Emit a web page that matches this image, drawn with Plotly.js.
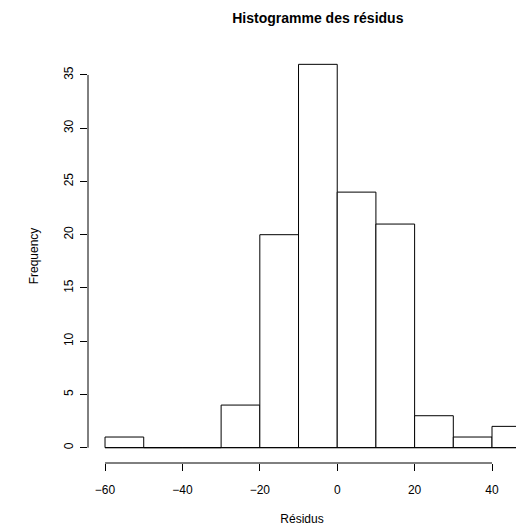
<!DOCTYPE html>
<html><head><meta charset="utf-8">
<script src="https://cdn.plot.ly/plotly-3.0.1.min.js"></script>
<style>html,body{margin:0;padding:0;background:#fff}</style>
</head><body><div id="chart" style="width:516px;height:527px"></div>
<script>
const binStarts = [-60, -50, -40, -30, -20, -10, 0, 10, 20, 30, 40];
const binWidth = 10;
const counts = [1, 0, 0, 4, 20, 36, 24, 21, 3, 1, 2];
const xTicks = [-60, -40, -20, 0, 20, 40];
const yTicks = [0, 5, 10, 15, 20, 25, 30, 35];

const centers = binStarts.map(s => s + binWidth / 2);
const font = {family: 'Liberation Sans, Arial, sans-serif', color: '#000'};

const trace = {
  type: 'bar', x: centers, y: counts, width: binWidth,
  marker: {color: '#fff', line: {color: '#000', width: 1}},
  hoverinfo: 'skip'
};

const layout = {
  width: 516, height: 527,
  margin: {l: 88, r: 0, t: 49, b: 64},
  paper_bgcolor: '#fff', plot_bgcolor: '#fff',
  showlegend: false, bargap: 0,
  font: Object.assign({size: 12}, font),
  title: {text: '<b>Histogramme des résidus</b>', font: Object.assign({size: 14}, font),
          xref: 'paper', x: 0.537, xanchor: 'center', yref: 'container', y: 0.966, yanchor: 'middle'},
  xaxis: {range: [-64.4, 46.2], tickvals: xTicks, ticktext: xTicks.map(v => v < 0 ? '\u2212' + Math.abs(v) : String(v)),
          ticks: 'outside', ticklen: 7, tickcolor: '#000', tickwidth: 1, showgrid: false, zeroline: false,
          showline: false, ticklabelstandoff: 9,
          title: {text: 'Résidus', font: Object.assign({size: 12}, font), standoff: 18}},
  yaxis: {range: [-1.44, 37.44], tickvals: yTicks, ticktext: yTicks.map(String), tickangle: -90,
          ticks: 'outside', ticklen: 7, tickcolor: '#000', tickwidth: 1, showgrid: false, zeroline: false,
          showline: false, ticklabelstandoff: 2,
          title: {text: 'Frequency', font: Object.assign({size: 12}, font), standoff: 21}},
  shapes: [
    {type: 'line', xref: 'x', yref: 'paper', x0: xTicks[0], x1: xTicks[xTicks.length - 1], y0: 0, y1: 0,
     line: {color: '#000', width: 1}},
    {type: 'line', xref: 'paper', yref: 'y', x0: 0, x1: 0, y0: yTicks[0], y1: yTicks[yTicks.length - 1],
     line: {color: '#000', width: 1}},
    {type: 'line', xref: 'x', yref: 'y', x0: binStarts[0], x1: binStarts[binStarts.length - 1] + binWidth,
     y0: 0, y1: 0, line: {color: '#000', width: 1}, layer: 'above'}
  ]
};

Plotly.newPlot('chart', [trace], layout, {staticPlot: true, displayModeBar: false});
</script></body></html>
